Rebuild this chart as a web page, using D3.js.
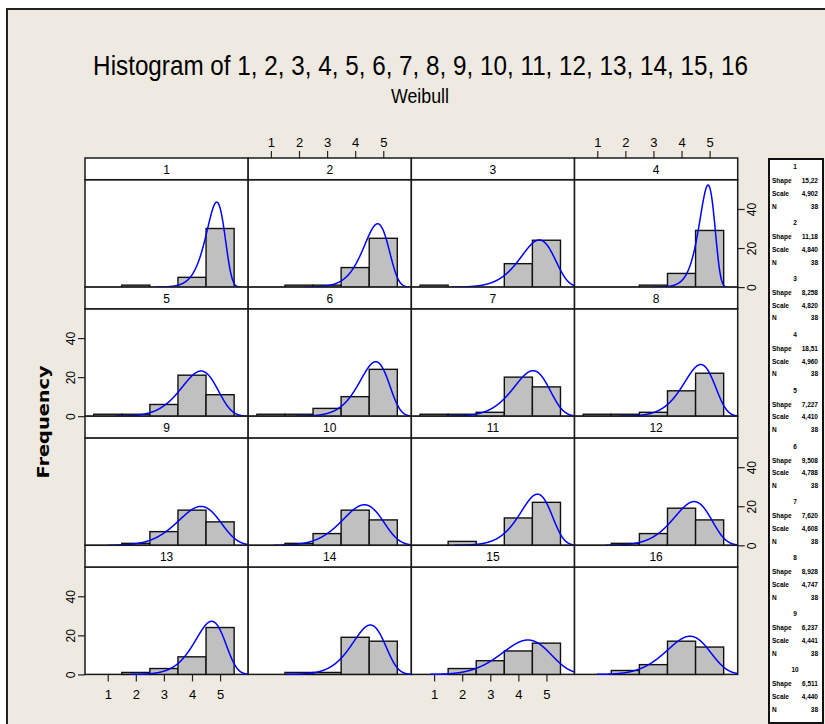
<!DOCTYPE html>
<html>
<head>
<meta charset="utf-8">
<script src="https://d3js.org/d3.v7.min.js"></script>
<style>
    body { margin: 0; background: #ffffff; }
    svg text { font-family: "Liberation Sans Narrow", "Liberation Sans", Arial, sans-serif; fill: #000; }
    .axis path.domain { display: none; }
    .axis line { stroke: #222; stroke-width: 1.2; }
</style>
</head>
<body>
<svg id="chart" width="825" height="724"></svg>
<script>
// ---- data ----
let panelNames = ["1", "2", "3", "4", "5", "6", "7", "8", "9", "10", "11", "12", "13", "14", "15", "16"];
let binCenters = [1, 2, 3, 4, 5];
// frequencies per bin (bins centred on 1..5)
let counts = [
    [0, 1, 0, 5, 30], [0, 1, 1, 10, 25], [1, 0, 0, 12, 24], [0, 0, 1, 7, 29],
    [1, 1, 6, 21, 11], [1, 1, 4, 10, 24], [1, 1, 2, 20, 15], [1, 1, 2, 13, 22],
    [0, 1, 7, 18, 12], [0, 1, 6, 18, 13], [0, 2, 0, 14, 22], [0, 1, 6, 19, 13],
    [0, 1, 3, 9, 24], [0, 1, 1, 19, 17], [0, 3, 7, 12, 16], [0, 2, 5, 17, 14]
];
// fitted Weibull parameters (legend)
let shapes = [15.22, 11.18, 8.258, 18.51, 7.227, 9.508, 7.620, 8.928, 6.237, 6.511, 8.830, 7.200, 9.200, 8.280, 5.570, 6.100];
let scales = [4.902, 4.840, 4.820, 4.960, 4.410, 4.788, 4.608, 4.747, 4.441, 4.440, 4.744, 4.543, 4.759, 4.611, 4.497, 4.428];
let nObs = [38, 38, 38, 38, 38, 38, 38, 38, 38, 38, 38, 38, 38, 38, 38, 38];
let xTicks = [1, 2, 3, 4, 5];
let yTicks = [0, 20, 40];
let title = "Histogram of 1, 2, 3, 4, 5, 6, 7, 8, 9, 10, 11, 12, 13, 14, 15, 16";
let subtitle = "Weibull";
let legendCount = 10;   // only the first 10 entries fit in the box

// ---- layout ----
let gridLeft = 85, gridRight = 737.7, gridTop = 158;
let rowH = 129.1, stripH = 21.7;
let colW = (gridRight - gridLeft) / 4;
let plotH = rowH - stripH;

let svg = d3.select("#chart");

// beige frame of the graph window
svg.append("rect")
    .attr("x", 7).attr("y", 9)
    .attr("width", 840).attr("height", 740)
    .attr("fill", "#eeeae1")
    .attr("stroke", "#222").attr("stroke-width", 2);

// title, squeezed horizontally like the original
let titleText = svg.append("text")
    .attr("text-anchor", "middle")
    .attr("font-size", 28)
    .text(title);
let tw = titleText.node().getComputedTextLength();
titleText.attr("transform", "translate(420.5,75) scale(" + (655 / tw) + ",1)");

let subText = svg.append("text")
    .attr("text-anchor", "middle")
    .attr("font-size", 20)
    .text(subtitle);
let sw = subText.node().getComputedTextLength();
subText.attr("transform", "translate(420,103) scale(" + (58 / sw) + ",1)");

// y label
svg.append("text")
    .attr("transform", "translate(49,422) rotate(-90)")
    .attr("text-anchor", "middle")
    .style("font-family", "'DejaVu Sans', sans-serif")
    .style("font-weight", "bold")
    .attr("font-size", 15)
    .attr("textLength", 113).attr("lengthAdjust", "spacingAndGlyphs")
    .text("Frequency");

// weibull density
function weibull(x, k, lam) {
    if (x <= 0) return 0;
    let z = x / lam;
    return (k / lam) * Math.pow(z, k - 1) * Math.exp(-Math.pow(z, k));
}

let defs = svg.append("defs");
let grid = svg.append("g");
let tickFont = "'Liberation Sans Narrow', 'Liberation Sans', sans-serif";

panelNames.forEach((name, i) => {
    let col = i % 4, row = Math.floor(i / 4);
    let L = gridLeft + col * colW;
    let top = gridTop + row * rowH;
    let plotTop = top + stripH;
    let base = top + rowH;

    let xScale = d3.scaleLinear().domain([0.19, 6.0]).range([L, L + colW]);
    let yScale = d3.scaleLinear().domain([0, plotH / 1.953]).range([base, plotTop]);

    let g = grid.append("g");

    // plot area + strip
    g.append("rect")
        .attr("x", L).attr("y", plotTop)
        .attr("width", colW).attr("height", plotH)
        .attr("fill", "#fff").attr("stroke", "#1a1a1a").attr("stroke-width", 1.5);
    g.append("rect")
        .attr("x", L).attr("y", top)
        .attr("width", colW).attr("height", stripH)
        .attr("fill", "#fff").attr("stroke", "#1a1a1a").attr("stroke-width", 1.5);
    g.append("text")
        .attr("x", L + colW / 2).attr("y", top + 16)
        .attr("text-anchor", "middle")
        .attr("font-size", 12)
        .text(name);

    defs.append("clipPath").attr("id", "clip" + i)
        .append("rect")
        .attr("x", L).attr("y", plotTop)
        .attr("width", colW).attr("height", plotH + 1.5);

    let body = g.append("g").attr("clip-path", "url(#clip" + i + ")");

    let bins = binCenters.map((c, j) => ({c: c, n: counts[i][j]})).filter(d => d.n > 0);
    body.selectAll("rect.bar").data(bins).enter().append("rect")
        .attr("class", "bar")
        .attr("x", d => xScale(d.c - 0.5))
        .attr("y", d => yScale(d.n))
        .attr("width", d => xScale(d.c + 0.5) - xScale(d.c - 0.5))
        .attr("height", d => base - yScale(d.n))
        .attr("fill", "#c0c0c0")
        .attr("stroke", "#111").attr("stroke-width", 1.4);

    // fitted curve, scaled to counts (bin width 1)
    let pts = d3.range(0.19, 6.0, 0.005)
        .map(x => [x, nObs[i] * weibull(x, shapes[i], scales[i])])
        .filter(p => p[1] >= 0.025);
    let line = d3.line().x(p => xScale(p[0])).y(p => yScale(p[1]));
    body.append("path")
        .datum(pts)
        .attr("d", line)
        .attr("fill", "none")
        .attr("stroke", "#0000ff").attr("stroke-width", 1.5);

    // axes alternate like a lattice
    if (row === 0 && (col === 1 || col === 3)) {
        let ax = svg.append("g").attr("class", "axis")
            .attr("transform", "translate(0," + gridTop + ")")
            .call(d3.axisTop(xScale).tickValues(xTicks).tickFormat(d3.format("d")).tickSize(7).tickPadding(4));
        ax.selectAll("text").attr("font-size", 13).style("font-family", tickFont);
    }
    if (row === 3 && (col === 0 || col === 2)) {
        let ax = svg.append("g").attr("class", "axis")
            .attr("transform", "translate(0," + base + ")")
            .call(d3.axisBottom(xScale).tickValues(xTicks).tickFormat(d3.format("d")).tickSize(7).tickPadding(8));
        ax.selectAll("text").attr("font-size", 13).style("font-family", tickFont);
    }
    if (col === 0 && (row === 1 || row === 3)) {
        let ax = svg.append("g").attr("class", "axis")
            .attr("transform", "translate(" + gridLeft + ",0)")
            .call(d3.axisLeft(yScale).tickValues(yTicks).tickFormat(d3.format("d")).tickSize(7));
        ax.selectAll("text")
            .attr("x", 0).attr("dy", "0.35em")
            .attr("text-anchor", "middle")
            .attr("transform", "translate(-14,0) rotate(-90)")
            .attr("font-size", 12).style("font-family", tickFont);
    }
    if (col === 3 && (row === 0 || row === 2)) {
        let ax = svg.append("g").attr("class", "axis")
            .attr("transform", "translate(" + gridRight + ",0)")
            .call(d3.axisRight(yScale).tickValues(yTicks).tickFormat(d3.format("d")).tickSize(7));
        ax.selectAll("text")
            .attr("x", 0).attr("dy", "0.35em")
            .attr("text-anchor", "middle")
            .attr("transform", "translate(14,0) rotate(-90)")
            .attr("font-size", 12).style("font-family", tickFont);
    }
});

// ---- legend box on the right ----
let fmt = v => {
    let s = v >= 10 ? v.toFixed(2) : v.toFixed(3);
    return s.replace(".", ",");
};
let legend = svg.append("g");
legend.append("rect")
    .attr("x", 769).attr("y", 159)
    .attr("width", 54).attr("height", 564)
    .attr("fill", "#fff").attr("stroke", "#111").attr("stroke-width", 2);

d3.range(legendCount).forEach(i => {
    let y0 = 169 + i * 55.9;
    let lg = legend.append("g").style("font-family", "'Liberation Sans', sans-serif")
        .style("font-weight", "bold").attr("font-size", 6.5);
    lg.append("text").attr("x", 795).attr("y", y0).attr("text-anchor", "middle").text(panelNames[i]);
    let rows = [["Shape", fmt(shapes[i])], ["Scale", fmt(scales[i])], ["N", nObs[i]]];
    rows.forEach((r, j) => {
        let yy = y0 + 14 + j * 12.8;
        lg.append("text").attr("x", 772).attr("y", yy).text(r[0]);
        lg.append("text").attr("x", 818).attr("y", yy).attr("text-anchor", "end").text(r[1]);
    });
});
</script>
</body>
</html>
